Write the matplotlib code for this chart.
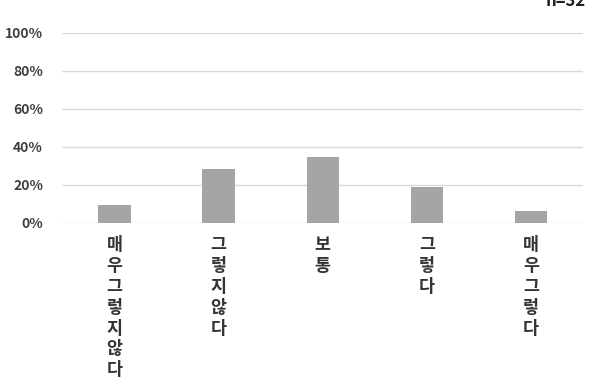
import matplotlib
matplotlib.use("Agg")
import matplotlib.pyplot as plt
from matplotlib.ticker import FuncFormatter

plt.rcParams['font.family'] = ['Noto Sans CJK KR', 'DejaVu Sans']

categories = ["매우그렇지 않다", "그렇지않다", "보통", "그렇다", "매우그렇다"]
values = [9.4, 28.1, 34.4, 18.8, 6.3]
yticks = [0, 20, 40, 60, 80, 100]
note = "n=32"

fig = plt.figure(figsize=(5.89, 3.83), dpi=100)
ax = fig.add_axes([0.106, 0.419, 0.884, 0.495])

x = list(range(len(categories)))
ax.bar(x, values, width=0.31, color="#a5a5a5", zorder=3)
ax.set_xlim(-0.5, len(categories) - 0.5)
ax.set_ylim(0, 100)
ax.set_yticks(yticks)
ax.yaxis.set_major_formatter(FuncFormatter(lambda v, p: f"{int(v)}%"))
ax.grid(axis="y", color="#d9d9d9", linewidth=1, zorder=0)
for s in ax.spines.values():
    s.set_visible(False)
ax.tick_params(axis="y", length=0, pad=14, labelsize=10, labelcolor="#404040")
ax.tick_params(axis="x", length=0)
for lab in ax.get_yticklabels():
    lab.set_fontweight("bold")
ax.set_xticks(x)
ax.set_xticklabels(["\n".join(c.replace(" ", "")) for c in categories],
                   fontsize=12.5, fontweight="bold", color="#333333",
                   linespacing=1.2, va="top")
ax.tick_params(axis="x", pad=10)

fig.text(0.995, 1 - 6 / 383, note, ha="right", va="baseline",
         fontsize=12, fontweight="bold", color="#222222")

fig.savefig("out.png", dpi=100)
